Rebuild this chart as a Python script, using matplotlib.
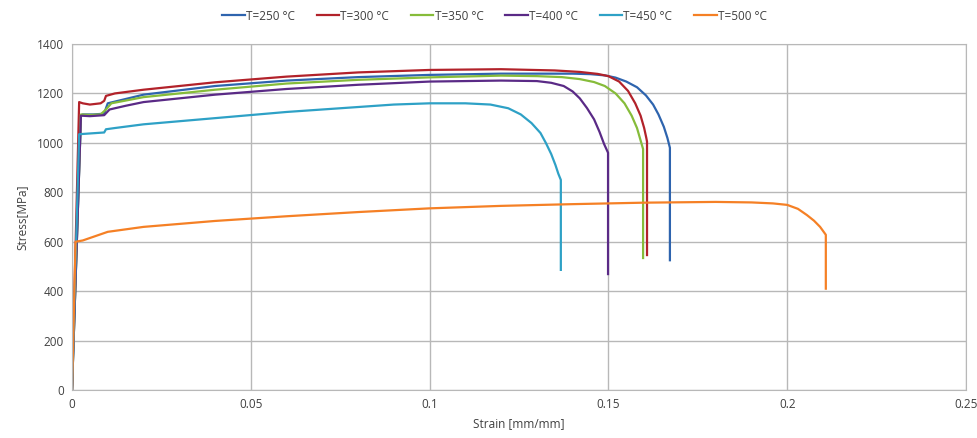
import matplotlib
matplotlib.use("Agg")
import matplotlib.pyplot as plt

plt.rcParams['font.family'] = ['Open Sans', 'DejaVu Sans']

labels = ['T=250 °C', 'T=300 °C', 'T=350 °C', 'T=400 °C', 'T=450 °C', 'T=500 °C']
colors = ['#2e64ae', '#b2222a', '#86bc3a', '#5a2a86', '#2ea1c6', '#f58025']

strain_250 = [0, 0.0025, 0.003, 0.006, 0.009, 0.0095, 0.01, 0.02, 0.04, 0.06, 0.08, 0.10, 0.12, 0.14,
              0.145, 0.149, 0.152, 0.155, 0.158, 0.1605, 0.1625, 0.164, 0.1655, 0.1665, 0.1672, 0.1672]
stress_250 = [0, 1110, 1115, 1115, 1118, 1140, 1160, 1195, 1230, 1252, 1266, 1275, 1280, 1280,
              1278, 1273, 1264, 1248, 1225, 1192, 1155, 1115, 1065, 1020, 980, 525]

strain_300 = [0, 0.002, 0.003, 0.005, 0.008, 0.009, 0.0095, 0.012, 0.02, 0.04, 0.06, 0.08, 0.10, 0.12,
              0.135, 0.142, 0.147, 0.150, 0.153, 0.1555, 0.1575, 0.159, 0.160, 0.1606, 0.1608, 0.1608]
stress_300 = [0, 1165, 1160, 1155, 1160, 1170, 1190, 1200, 1215, 1245, 1268, 1285, 1295, 1298,
              1293, 1287, 1279, 1270, 1248, 1210, 1160, 1110, 1060, 1020, 1005, 546]

strain_350 = [0, 0.0025, 0.005, 0.008, 0.0095, 0.011, 0.02, 0.04, 0.06, 0.08, 0.10, 0.12, 0.13,
              0.137, 0.142, 0.146, 0.149, 0.152, 0.1545, 0.1565, 0.158, 0.159, 0.1597, 0.1597]
stress_350 = [0, 1115, 1113, 1115, 1135, 1160, 1185, 1215, 1240, 1255, 1265, 1272, 1270,
              1266, 1258, 1246, 1230, 1200, 1160, 1110, 1060, 1010, 975, 534]

strain_400 = [0, 0.0025, 0.005, 0.009, 0.0105, 0.015, 0.02, 0.04, 0.06, 0.08, 0.10, 0.12, 0.13,
              0.134, 0.1375, 0.140, 0.142, 0.144, 0.146, 0.1475, 0.1488, 0.1499, 0.1499]
stress_400 = [0, 1110, 1108, 1112, 1135, 1150, 1165, 1195, 1218, 1235, 1248, 1252, 1250,
              1243, 1230, 1208, 1180, 1141, 1095, 1045, 995, 960, 469]

strain_450 = [0, 0.002, 0.005, 0.009, 0.0095, 0.012, 0.02, 0.04, 0.06, 0.08, 0.09, 0.10, 0.11,
              0.117, 0.122, 0.1255, 0.1285, 0.131, 0.1325, 0.134, 0.1352, 0.136, 0.1367, 0.1367]
stress_450 = [0, 1035, 1038, 1042, 1055, 1060, 1075, 1100, 1125, 1145, 1155, 1160, 1160,
              1155, 1140, 1115, 1080, 1040, 1000, 955, 910, 875, 850, 486]

strain_500 = [0, 0.001, 0.003, 0.005, 0.008, 0.01, 0.02, 0.04, 0.06, 0.08, 0.10, 0.12, 0.14,
              0.16, 0.18, 0.19, 0.196, 0.200, 0.203, 0.2055, 0.2075, 0.2092, 0.2108, 0.2108]
stress_500 = [0, 600, 605, 615, 630, 640, 660, 684, 703, 720, 735, 745, 752,
              758, 761, 759, 755, 749, 733, 708, 685, 660, 628, 410]

strains = [strain_250, strain_300, strain_350, strain_400, strain_450, strain_500]
stresses = [stress_250, stress_300, stress_350, stress_400, stress_450, stress_500]

fig = plt.figure(figsize=(9.78, 4.38), dpi=100)
ax = fig.add_axes([72 / 978, 48 / 438, 894 / 978, 346 / 438])

for x, y, c, lab in zip(strains, stresses, colors, labels):
    ax.plot(x, y, color=c, lw=1.6, label=lab, solid_joinstyle='round')

ax.set_xlim(0, 0.25)
ax.set_ylim(0, 1400)
ax.set_xticks([0, 0.05, 0.1, 0.15, 0.2, 0.25])
ax.set_xticklabels(['0', '0.05', '0.1', '0.15', '0.2', '0.25'])
ax.set_yticks(range(0, 1401, 200))
ax.grid(True, color='#b8b8b8', lw=1)
ax.set_axisbelow(True)
for s in ax.spines.values():
    s.set_color('#b8b8b8')
ax.tick_params(length=0, colors='#404040', labelsize=8.5, pad=6)
ax.set_xlabel('Strain [mm/mm]', fontsize=8.5, color='#404040', labelpad=4)
ax.set_ylabel('Stress[MPa]', fontsize=8.5, color='#404040', labelpad=6)

handles, labs = ax.get_legend_handles_labels()
fig.legend(handles, labs, loc='center', bbox_to_anchor=(494.5 / 978, 1 - 16 / 438), ncol=6,
           frameon=False, fontsize=8.5, handlelength=1.9, columnspacing=1.86, handletextpad=0.1,
           labelcolor='#404040')

fig.savefig('out.png', dpi=100)
